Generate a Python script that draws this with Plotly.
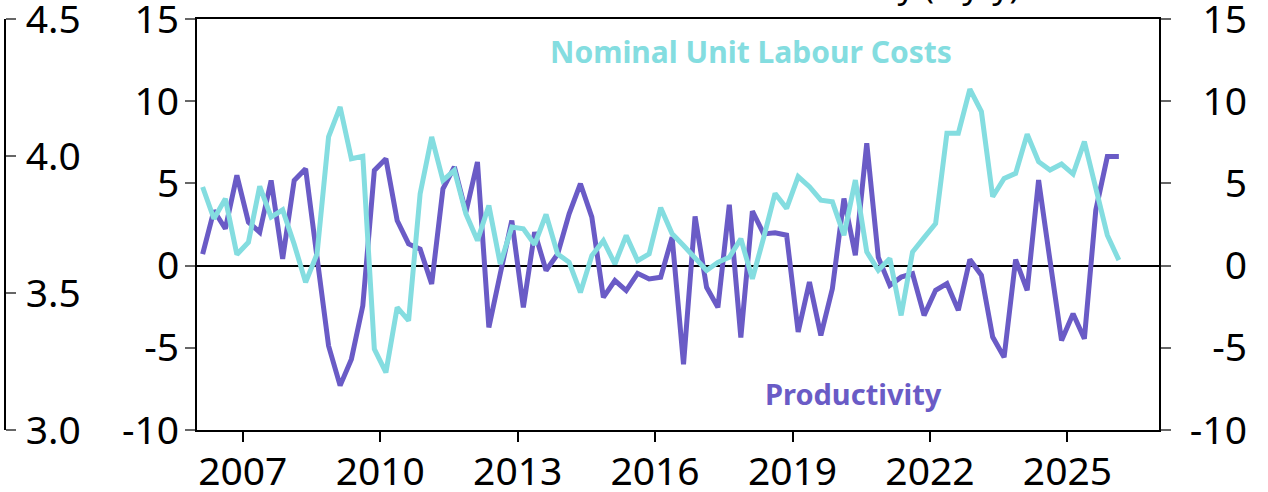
import plotly.graph_objects as go
import pandas as pd

# ---------------- data ----------------
quarters = [str(p) for p in pd.period_range("2006Q1", "2026Q1", freq="Q")]

productivity = [
    0.7, 3.35, 2.24, 5.49, 2.64, 2.03, 5.18, 0.41, 5.18, 5.89,
    0.5, -4.88, -7.3, -5.69, -2.44, 5.79, 6.5, 2.74, 1.32, 1.0,
    -1.12, 4.67, 6.0, 3.25, 6.3, -3.76, -0.5, 2.74, -2.54, 2.03,
    -0.3, 0.7, 3.15, 4.98, 2.95, -1.93, -0.91, -1.52, -0.47, -0.81,
    -0.71, 1.73, -6.0, 2.99, -1.32, -2.54, 3.7, -4.37, 3.31, 1.93,
    1.99, 1.85, -4.04, -1.0, -4.25, -1.4, 4.08, 0.63, 7.44, 0.5,
    -1.2, -0.7, -0.49, -3.03, -1.5, -1.1, -2.72, 0.37, -0.59, -4.35,
    -5.57, 0.37, -1.5, 5.2, 0.3, -4.55, -2.93, -4.45, 3.37, 6.63,
    6.63,
]

nominal_ulc = [
    4.78, 2.85, 4.07, 0.67, 1.42, 4.82, 2.95, 3.39, 1.3, -1.02,
    0.71, 7.83, 9.65, 6.5, 6.65, -5.08, -6.5, -2.54, -3.35, 4.37,
    7.83, 5.18, 5.79, 3.15, 1.52, 3.66, 0.1, 2.34, 2.24, 1.28,
    3.11, 0.71, 0.2, -1.63, 0.61, 1.52, 0.1, 1.83, 0.3, 0.71,
    3.52, 1.93, 1.22, 0.51, -0.3, 0.2, 0.51, 1.63, -0.81, 1.7,
    4.39, 3.48, 5.41, 4.8, 3.98, 3.88, 1.85, 5.2, 0.83, -0.28,
    0.43, -3.03, 0.83, 1.7, 2.56, 8.05, 8.05, 10.73, 9.37, 4.19,
    5.3, 5.61, 8.0, 6.32, 5.81, 6.18, 5.57, 7.54, 4.8, 1.85,
    0.33,
]

x_tick_years = [2007, 2010, 2013, 2016, 2019, 2022, 2025]
y_ticks = [-10, -5, 0, 5, 10, 15]
y_tick_labels = ["-10", "-5", "0", "5", "10", "15"]
far_left_ticks = [3.0, 3.5, 4.0, 4.5]
far_left_labels = ["3.0", "3.5", "4.0", "4.5"]

# mid-quarter dates for each quarter label
dates = [(pd.Period(q, freq="Q").start_time + pd.Timedelta(days=45)).strftime("%Y-%m-%d")
         for q in quarters]

PURPLE = "#6A5BC6"
CYAN = "#84DDE0"
FONT = "Noto Sans"

W, H = 1268, 492
MT, MB = 19, 62
PH = H - MT - MB
plot_left_px, plot_right_px = 197, 1159

fig = go.Figure()
fig.add_trace(go.Scatter(x=dates, y=productivity, mode="lines", name="Productivity",
                         line=dict(color=PURPLE, width=5), yaxis="y"))
fig.add_trace(go.Scatter(x=dates, y=nominal_ulc, mode="lines", name="Nominal Unit Labour Costs",
                         line=dict(color=CYAN, width=5), yaxis="y2"))
# empty traces so the extra label axes are drawn
fig.add_trace(go.Scatter(x=[dates[0]], y=[None], yaxis="y3", showlegend=False, hoverinfo="skip"))
fig.add_trace(go.Scatter(x=[dates[0]], y=[None], yaxis="y4", showlegend=False, hoverinfo="skip"))

tfont = dict(family=FONT, size=39, color="black")
yr = [-10.0001, 15.0001]

fig.update_layout(
    width=W, height=H,
    margin=dict(l=0, r=0, t=MT, b=MB),
    paper_bgcolor="white", plot_bgcolor="white",
    showlegend=False,
    font=dict(family=FONT, size=39, color="black"),
    xaxis=dict(type="date", domain=[plot_left_px / W, plot_right_px / W],
               range=["2006-01-01", "2027-01-01"],
               tickvals=[f"{y}-01-01" for y in x_tick_years],
               ticktext=[str(y) for y in x_tick_years],
               ticks="outside", ticklen=10, tickwidth=2, tickcolor="black",
               showline=True, linecolor="black", linewidth=2, mirror=True,
               showgrid=False, zeroline=False, automargin=False,
               ticklabelstandoff=-4, ticklabeloverflow="allow", tickfont=tfont),
    yaxis=dict(range=yr, tickvals=y_ticks, ticktext=y_tick_labels,
               ticks="outside", ticklen=10, tickwidth=1.5, tickcolor="#666666",
               showline=True, linecolor="black", linewidth=2, showgrid=False,
               zeroline=True, zerolinecolor="black", zerolinewidth=1.5,
               automargin=False, ticklabelstandoff=-2, ticklabeloverflow="allow",
               tickfont=tfont),
    # right axis: line and ticks only
    yaxis2=dict(range=yr, overlaying="y", side="right", tickvals=y_ticks,
                ticks="outside", ticklen=10, tickwidth=1.5, tickcolor="#666666",
                showticklabels=False, showline=True, linecolor="black", linewidth=2,
                showgrid=False, zeroline=False, automargin=False),
    # right-aligned labels of the right axis
    yaxis4=dict(range=yr, overlaying="y", anchor="free", position=1247 / W, side="left",
                tickvals=y_ticks, ticktext=y_tick_labels, ticks="", showline=False,
                showgrid=False, zeroline=False, automargin=False,
                ticklabeloverflow="allow", tickfont=tfont),
    # cropped axis of the neighbouring chart on the far left
    yaxis3=dict(overlaying="y", anchor="free", position=5 / W, side="right",
                range=[3.0, 4.5001], tickvals=far_left_ticks, ticktext=far_left_labels,
                ticks="outside", ticklen=10, tickwidth=1.5, tickcolor="#666666",
                showline=True, linecolor="black", linewidth=2, showgrid=False,
                zeroline=False, automargin=False, ticklabelstandoff=2,
                ticklabeloverflow="allow", tickfont=tfont),
)

fig.add_annotation(x="2018-02-02", y=13.05, xref="x", yref="y", text="Nominal Unit Labour Costs",
                   showarrow=False, font=dict(family=FONT, size=30, color=CYAN, weight=700))
fig.add_annotation(x="2020-05-05", y=-7.8, xref="x", yref="y", text="Productivity",
                   showarrow=False, font=dict(family=FONT, size=29, color=PURPLE, weight=700))

# partially visible (cropped) chart title at the very top
fig.add_annotation(x=1022 / W, y=1 + (MT - 10) / PH, xref="paper", yref="paper",
                   xanchor="right", yanchor="bottom",
                   text="Unit Labour Costs & Productivity (%y/y)", showarrow=False,
                   font=dict(family=FONT, size=34, color="black"))

fig.write_html("out.html", config={"displayModeBar": False},
               post_script="document.body.style.margin='0';")
